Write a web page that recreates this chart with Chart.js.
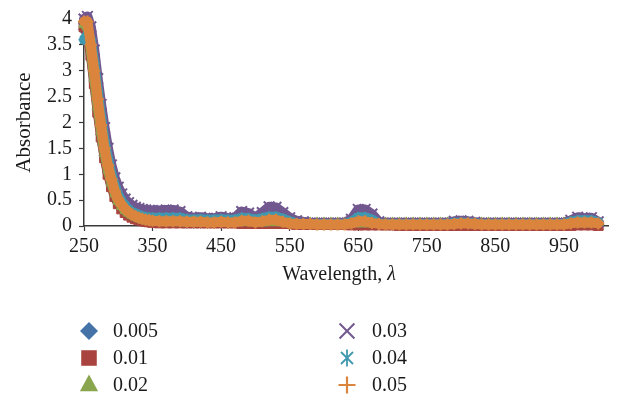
<!DOCTYPE html>
<html>
<head>
<meta charset="utf-8">
<script src="https://cdn.jsdelivr.net/npm/chart.js@4/dist/chart.umd.min.js"></script>
<style>
  html, body { margin: 0; padding: 0; background: #ffffff; }
  #wrap { width: 618px; height: 400px; position: relative; }
</style>
</head>
<body>
<div id="wrap"><canvas id="c" width="618" height="400"></canvas></div>
<script>
// ---------- DATA ----------
const WAVELENGTH = [250,255,260,265,270,275,280,285,290,295,300,305,310,315,320,325,330,335,340,345,350,
  360,370,380,390,400,410,420,430,440,450,460,470,
  480,490,500,510,520,530,540,550,
  560,570,580,590,600,610,620,630,
  640,650,660,670,680,690,700,
  710,720,730,740,750,760,770,780,
  790,800,810,820,830,
  840,850,860,870,880,890,900,910,920,930,940,950,
  960,970,980,990,1000];

const SERIES_NAMES = ["0.005", "0.01", "0.02", "0.03", "0.04", "0.05"];

const ABS_0005 = [3.80,3.75,3.35,2.80,2.25,1.77,1.36,1.03,0.79,0.59,0.45,0.35,0.27,0.22,0.18,0.15,0.13,0.11,0.10,0.09,0.08,
  0.07,0.07,0.07,0.07,0.06,0.06,0.06,0.06,0.06,0.06,0.06,0.06,
  0.06,0.06,0.05,0.05,0.06,0.06,0.05,0.05,
  0.04,0.04,0.04,0.04,0.03,0.03,0.03,0.03,
  0.03,0.04,0.04,0.03,0.03,0.02,0.02,
  0.02,0.02,0.02,0.02,0.02,0.02,0.02,0.02,
  0.02,0.03,0.03,0.02,0.02,
  0.02,0.02,0.02,0.02,0.02,0.02,0.02,0.02,0.02,0.02,0.02,0.02,
  0.03,0.04,0.04,0.04,0.03];

const ABS_001 = [3.85,3.70,3.30,2.75,2.20,1.72,1.32,1.00,0.76,0.57,0.43,0.33,0.26,0.21,0.17,0.14,0.12,0.10,0.09,0.08,0.07,
  0.06,0.06,0.06,0.06,0.06,0.06,0.06,0.06,0.06,0.06,0.06,0.06,
  0.05,0.05,0.05,0.05,0.05,0.05,0.05,0.05,
  0.03,0.03,0.03,0.03,0.03,0.03,0.03,0.03,
  0.02,0.02,0.02,0.02,0.02,0.02,0.02,
  0.01,0.01,0.01,0.01,0.01,0.01,0.01,0.01,
  0.01,0.01,0.01,0.01,0.01,
  0.01,0.01,0.01,0.01,0.01,0.01,0.01,0.01,0.01,0.01,0.01,0.01,
  0.01,0.02,0.02,0.02,0.01];

const ABS_002 = [3.90,3.85,3.40,2.85,2.30,1.82,1.40,1.08,0.83,0.63,0.48,0.38,0.30,0.25,0.21,0.18,0.15,0.13,0.12,0.11,0.10,
  0.09,0.09,0.09,0.09,0.08,0.08,0.08,0.08,0.08,0.09,0.08,0.08,
  0.09,0.09,0.08,0.08,0.09,0.09,0.08,0.07,
  0.06,0.06,0.06,0.06,0.06,0.06,0.06,0.06,
  0.06,0.07,0.07,0.06,0.06,0.06,0.06,
  0.06,0.06,0.06,0.06,0.06,0.06,0.06,0.06,
  0.06,0.07,0.07,0.06,0.06,
  0.06,0.06,0.06,0.06,0.06,0.06,0.06,0.06,0.06,0.06,0.06,0.06,
  0.06,0.07,0.07,0.07,0.06];

const ABS_003 = [4.00,4.05,3.85,3.40,2.85,2.35,1.90,1.50,1.18,0.93,0.75,0.62,0.52,0.45,0.40,0.36,0.34,0.32,0.31,0.30,0.30,
  0.30,0.31,0.31,0.28,0.18,0.16,0.17,0.15,0.15,0.18,0.15,0.16,
  0.28,0.25,0.16,0.26,0.37,0.36,0.26,0.16,
  0.10,0.08,0.06,0.06,0.06,0.06,0.06,0.06,
  0.13,0.32,0.32,0.23,0.08,0.06,0.06,
  0.06,0.06,0.06,0.06,0.06,0.06,0.06,0.06,
  0.09,0.10,0.09,0.07,0.06,
  0.06,0.06,0.06,0.06,0.06,0.06,0.06,0.06,0.06,0.06,0.06,0.06,
  0.11,0.17,0.15,0.16,0.08];

const ABS_004 = [3.60,3.70,3.60,3.15,2.60,2.10,1.65,1.30,1.00,0.78,0.60,0.48,0.39,0.32,0.27,0.24,0.21,0.19,0.17,0.16,0.16,
  0.16,0.16,0.16,0.16,0.13,0.12,0.13,0.12,0.12,0.13,0.12,0.12,
  0.16,0.15,0.12,0.15,0.18,0.18,0.14,0.09,
  0.05,0.04,0.04,0.04,0.04,0.04,0.04,0.04,
  0.08,0.17,0.17,0.12,0.05,0.04,0.04,
  0.04,0.04,0.04,0.04,0.04,0.04,0.04,0.04,
  0.06,0.07,0.06,0.05,0.04,
  0.04,0.04,0.04,0.04,0.04,0.04,0.04,0.04,0.04,0.04,0.04,0.04,
  0.08,0.11,0.11,0.11,0.07];

const ABS_005 = [3.95,3.95,3.50,3.00,2.45,1.95,1.50,1.17,0.90,0.68,0.52,0.41,0.33,0.27,0.22,0.19,0.16,0.14,0.12,0.11,0.10,
  0.09,0.09,0.09,0.09,0.08,0.08,0.08,0.07,0.07,0.08,0.07,0.07,
  0.10,0.10,0.07,0.09,0.12,0.12,0.08,0.05,
  0.04,0.04,0.04,0.03,0.03,0.03,0.03,0.03,
  0.05,0.09,0.09,0.06,0.04,0.03,0.03,
  0.03,0.03,0.03,0.03,0.03,0.03,0.03,0.03,
  0.04,0.05,0.05,0.04,0.03,
  0.03,0.03,0.03,0.03,0.03,0.03,0.03,0.03,0.03,0.03,0.03,0.03,
  0.05,0.07,0.07,0.07,0.05];

const X_TICKS = [250, 350, 450, 550, 650, 750, 850, 950];
const Y_TICKS = [0, 0.5, 1, 1.5, 2, 2.5, 3, 3.5, 4];

// ---------- STYLE ----------
const FONT = "'Liberation Serif', 'DejaVu Serif', serif";
const TEXT_COLOR = '#1a1a1a';
const AXIS_COLOR = '#3a3a3a';
const STYLES = [
  { color: '#4572A7', style: 'rectRot',  r: 5.5, bw: 1,   lr: 9 },
  { color: '#A8433F', style: 'rect',     r: 7,   bw: 1,   lr: 11 },
  { color: '#89A54E', style: 'triangle', r: 6,   bw: 1,   lr: 10.5 },
  { color: '#71588F', style: 'crossRot', r: 7.5, bw: 2,   lr: 10.5 },
  { color: '#4198AF', style: 'star',     r: 5.5, bw: 1.8, lr: 8.5 },
  { color: '#DB843D', style: 'cross',    r: 6,   bw: 2.2, lr: 8.5 }
];
const ALL_VALUES = [ABS_0005, ABS_001, ABS_002, ABS_003, ABS_004, ABS_005];

const datasets = ALL_VALUES.map((vals, i) => ({
  label: SERIES_NAMES[i],
  data: WAVELENGTH.map((x, k) => ({ x: x, y: vals[k] })),
  showLine: true,
  borderColor: STYLES[i].color,
  backgroundColor: STYLES[i].color,
  borderWidth: 10,
  borderJoinStyle: 'round',
  borderCapStyle: 'round',
  pointStyle: STYLES[i].style,
  pointRadius: STYLES[i].r,
  pointBorderWidth: STYLES[i].bw,
  pointBackgroundColor: STYLES[i].color,
  pointBorderColor: STYLES[i].color,
  pointHoverRadius: STYLES[i].r,
  tension: 0,
  clip: false,
  order: ALL_VALUES.length - i
}));

function drawMarker(ctx, style, x, y, r, color, bw) {
  ctx.save();
  ctx.fillStyle = color;
  ctx.strokeStyle = color;
  ctx.lineWidth = bw;
  ctx.beginPath();
  if (style === 'rectRot') {
    ctx.moveTo(x, y - r); ctx.lineTo(x + r, y); ctx.lineTo(x, y + r); ctx.lineTo(x - r, y); ctx.closePath();
    ctx.fill();
  } else if (style === 'rect') {
    const s = r * Math.SQRT1_2;
    ctx.rect(x - s, y - s, 2 * s, 2 * s); ctx.fill();
  } else if (style === 'triangle') {
    ctx.moveTo(x, y - r);
    ctx.lineTo(x + r * Math.sin(Math.PI / 3), y + r * 0.5 + 1);
    ctx.lineTo(x - r * Math.sin(Math.PI / 3), y + r * 0.5 + 1);
    ctx.closePath(); ctx.fill();
  } else if (style === 'crossRot') {
    const s = r * Math.SQRT1_2;
    ctx.moveTo(x - s, y - s); ctx.lineTo(x + s, y + s);
    ctx.moveTo(x - s, y + s); ctx.lineTo(x + s, y - s);
    ctx.stroke();
  } else if (style === 'star') {
    const s = r * Math.SQRT1_2;
    ctx.moveTo(x, y - r); ctx.lineTo(x, y + r);
    ctx.moveTo(x - s, y - s); ctx.lineTo(x + s, y + s);
    ctx.moveTo(x - s, y + s); ctx.lineTo(x + s, y - s);
    ctx.stroke();
  } else if (style === 'cross') {
    ctx.moveTo(x, y - r); ctx.lineTo(x, y + r);
    ctx.moveTo(x - r, y); ctx.lineTo(x + r, y);
    ctx.stroke();
  }
  ctx.restore();
}

const overlayPlugin = {
  id: 'overlay',
  afterDraw(chart) {
    const ctx = chart.ctx;
    // x-axis title with italic lambda
    ctx.save();
    ctx.fillStyle = TEXT_COLOR;
    ctx.textBaseline = 'alphabetic';
    ctx.font = "20px " + FONT;
    const part1 = 'Wavelength, ';
    const w1 = ctx.measureText(part1).width;
    ctx.font = "italic 20px " + FONT;
    const w2 = ctx.measureText('λ').width;
    const cx = 339;
    let sx = cx - (w1 + w2) / 2;
    ctx.font = "20px " + FONT;
    ctx.textAlign = 'left';
    ctx.fillText(part1, sx, 280);
    ctx.font = "italic 20px " + FONT;
    ctx.fillText('λ', sx + w1, 280);
    ctx.restore();

    // legend in two columns
    const rowsY = [331, 358, 385];
    const colMarkerX = [89, 347];
    const colTextX = [113, 372];
    ctx.save();
    ctx.font = "20px " + FONT;
    ctx.fillStyle = TEXT_COLOR;
    ctx.textBaseline = 'middle';
    ctx.textAlign = 'left';
    SERIES_NAMES.forEach((name, i) => {
      const col = Math.floor(i / 3);
      const row = i % 3;
      const st = STYLES[i];
      drawMarker(ctx, st.style, colMarkerX[col], rowsY[row], st.lr, st.color, st.bw);
      ctx.fillStyle = TEXT_COLOR;
      ctx.fillText(name, colTextX[col], rowsY[row] + 1);
    });
    ctx.restore();
  }
};

new Chart(document.getElementById('c'), {
  type: 'scatter',
  data: { datasets: datasets },
  plugins: [overlayPlugin],
  options: {
    responsive: false,
    animation: false,
    events: [],
    layout: { padding: { left: 0, right: 7, top: 7, bottom: 0 } },
    plugins: { legend: { display: false }, tooltip: { enabled: false }, title: { display: false } },
    scales: {
      x: {
        type: 'linear',
        min: 250,
        max: 1015,
        afterFit(scale) { scale.height = 174; },
        afterBuildTicks(scale) { scale.ticks = X_TICKS.map(v => ({ value: v })); },
        border: { display: true, color: AXIS_COLOR, width: 1.5 },
        grid: { display: true, drawOnChartArea: false, drawTicks: true, tickLength: 5, color: AXIS_COLOR, tickWidth: 1.2 },
        ticks: {
          autoSkip: false, maxRotation: 0, padding: 4,
          color: TEXT_COLOR,
          font: { family: FONT, size: 20 },
          callback: (v) => String(v)
        },
        title: { display: false }
      },
      y: {
        type: 'linear',
        min: 0,
        max: 4,
        afterFit(scale) { scale.width = 84; },
        afterBuildTicks(scale) { scale.ticks = Y_TICKS.map(v => ({ value: v })); },
        border: { display: true, color: AXIS_COLOR, width: 1.5 },
        grid: { display: true, drawOnChartArea: false, drawTicks: true, tickLength: 5, color: AXIS_COLOR, tickWidth: 1.2 },
        ticks: {
          autoSkip: false, padding: 7,
          color: TEXT_COLOR,
          font: { family: FONT, size: 20 },
          callback: (v) => String(v)
        },
        title: {
          display: true, text: 'Absorbance', color: TEXT_COLOR,
          font: { family: FONT, size: 21 },
          padding: { top: 12, bottom: 0 }
        }
      }
    }
  }
});
</script>
</body>
</html>
